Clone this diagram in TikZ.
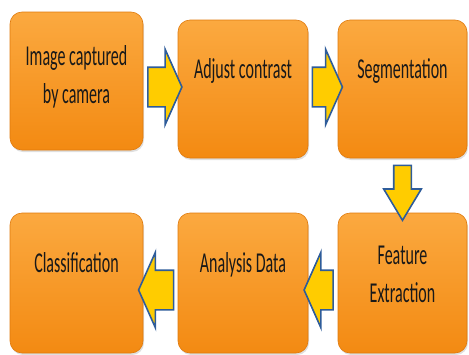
\documentclass[tikz,border=0pt]{standalone}
\usepackage{fontspec}
\setmainfont{Carlito}
\usetikzlibrary{shapes.arrows,shadows,calc}
\definecolor{boxtop}{HTML}{FBA940}
\definecolor{boxbot}{HTML}{F38A12}
\definecolor{boxedge}{HTML}{E07A0C}
\definecolor{arrfill}{HTML}{FFCC00}
\definecolor{arredge}{HTML}{2E5C9A}
\tikzset{
  box/.style={rectangle, rounded corners=12pt, draw=boxedge, line width=0.6pt,
    top color=boxtop, bottom color=boxbot, minimum width=130pt, minimum height=138pt,
    drop shadow={shadow xshift=1pt, shadow yshift=-2pt, opacity=0.25}},
  lbl/.style={align=center, text=black!90, inner sep=0pt},
  harr/.style={single arrow, draw=arredge, fill=arrfill, line width=1.6pt,
    inner xsep=0pt, inner ysep=19pt, minimum width=0pt,
    single arrow head extend=18pt, single arrow tip angle=132},
  varr/.style={single arrow, draw=arredge, fill=arrfill, line width=1.6pt,
    inner xsep=8pt, inner ysep=0pt, minimum width=0pt,
    single arrow head extend=10pt, single arrow tip angle=62,
    shape border rotate=270}
}
\newcommand{\tall}[1]{\scalebox{1}[1.8]{\fontsize{16}{13.5}\selectfont\begin{tabular}{@{}c@{}}#1\end{tabular}}}
\begin{document}
\begin{tikzpicture}[x=1pt, y=-1pt]
  \useasboundingbox (0,0) rectangle (469,354);
  % first row
  \node[box, minimum width=133pt] (b1) at (76.5,81) {};
  \node[box] (b2) at (243,89) {};
  \node[box, minimum width=129pt] (b3) at (402.5,89) {};
  % second row
  \node[box, minimum width=129pt, minimum height=140pt] (b4) at (402.5,283) {};
  \node[box, minimum height=140pt] (b5) at (243,283) {};
  \node[box, minimum width=133pt, minimum height=140pt] (b6) at (76.5,283) {};
  % labels
  \node[lbl] (t1) at (76.5,78) {\tall{Image captured\\[6pt]by camera}};
  \node[lbl] (t2) at (243,72) {\tall{Adjust contrast}};
  \node[lbl] (t3) at (402.5,72) {\tall{Segmentation}};
  \node[lbl] (t4) at (402.5,278) {\tall{Feature\\[6pt]Extraction}};
  \node[lbl] (t5) at (243,266) {\tall{Analysis Data}};
  \node[lbl] (t6) at (76.5,266) {\tall{Classification}};
  % arrows
  \node[harr, minimum height=34pt] (a1) at ($(b1.east)!0.5!(b2.west)+(0,2)$) {};
  \node[harr, minimum height=30pt] (a2) at ($(b2.east)!0.5!(b3.west)+(0,-2)$) {};
  \node[varr, minimum height=55pt] (a3) at ($(b3.south)!0.5!(b4.north)$) {};
  \node[harr, minimum height=29pt, shape border rotate=180] (a4) at ($(b4.west)!0.5!(b5.east)+(0,7)$) {};
  \node[harr, minimum height=35pt, shape border rotate=180] (a5) at ($(b5.west)!0.5!(b6.east)+(0,7)$) {};
\end{tikzpicture}
\end{document}
